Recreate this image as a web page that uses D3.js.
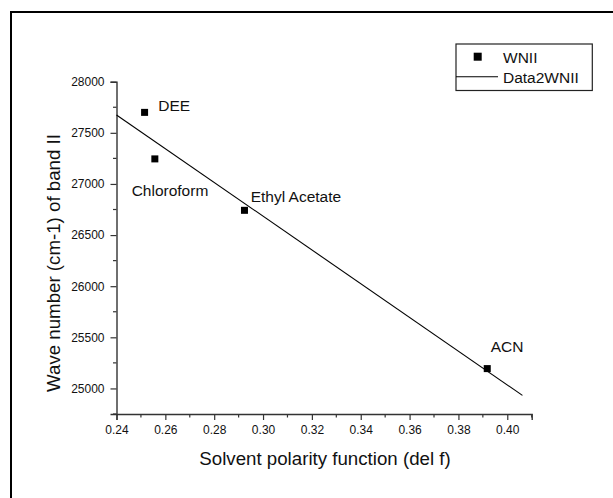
<!DOCTYPE html>
<html>
<head>
<meta charset="utf-8">
<script src="https://cdn.jsdelivr.net/npm/d3@7"></script>
<style>
  html, body { margin: 0; padding: 0; background: #fff; }
  svg { display: block; font-family: "Liberation Sans", Arial, Helvetica, sans-serif; }
</style>
</head>
<body>
<svg id="chart" width="613" height="498"></svg>
<script>
// ---- data ----
const solvents = ["DEE", "Chloroform", "Ethyl Acetate", "ACN"];
const delF = [0.2515, 0.2557, 0.2924, 0.3918];
const waveNumber = [27700, 27245, 26742, 25194];
const fitX = [0.24, 0.4062];
const fitY = [27675, 24932];
const xTicks = [0.24, 0.26, 0.28, 0.30, 0.32, 0.34, 0.36, 0.38, 0.40];
const yTicks = [25000, 25500, 26000, 26500, 27000, 27500, 28000];
const xMinorTicks = [0.25, 0.27, 0.29, 0.31, 0.33, 0.35, 0.37, 0.39, 0.41];
const yMinorTicks = [24750, 25250, 25750, 26250, 26750, 27250, 27750];
const legendLabels = ["WNII", "Data2WNII"];
const xTitle = "Solvent polarity function (del f)";
const yTitle = "Wave number (cm-1) of band II";

// ---- layout ----
const svg = d3.select("#chart");
const x = d3.scaleLinear().domain([0.24, 0.41]).range([116.5, 531.7]);
const y = d3.scaleLinear().domain([24750, 28000]).range([414, 81.7]);
const axisColor = "#333";

// outer frame (right/bottom edges lie outside picture)
svg.append("rect").attr("x", 11).attr("y", 12).attr("width", 700).attr("height", 600)
  .attr("fill", "none").attr("stroke", "#000").attr("stroke-width", 2);

// axes
const xAxis = d3.axisBottom(x).tickValues(xTicks).tickFormat(d3.format(".2f")).tickSize(6).tickPadding(5);
const yAxis = d3.axisLeft(y).tickValues(yTicks).tickFormat(d3.format("d")).tickSize(6).tickPadding(6);

const gx = svg.append("g").attr("transform", `translate(0,${y.range()[0]})`).call(xAxis);
const gy = svg.append("g").attr("transform", `translate(${x.range()[0]},0)`).call(yAxis);

// minor ticks
gx.selectAll(".minor").data(xMinorTicks).enter().append("line")
  .attr("class", "minor").attr("x1", d => x(d)).attr("x2", d => x(d))
  .attr("y1", 0).attr("y2", 3.5).attr("stroke", axisColor);
gy.selectAll(".minor").data(yMinorTicks).enter().append("line")
  .attr("class", "minor").attr("y1", d => y(d)).attr("y2", d => y(d))
  .attr("x1", 0).attr("x2", -3.5).attr("stroke", axisColor);

[gx, gy].forEach(g => {
  g.select(".domain").attr("stroke", axisColor).attr("stroke-width", 1.4);
  g.selectAll(".tick line").attr("stroke", axisColor).attr("stroke-width", 1.2);
  g.selectAll("line.minor").attr("stroke-width", 1.2);
  g.selectAll(".tick text").attr("fill", "#111").style("font-size", "12px")
    .style("font-family", "'Liberation Sans', Arial, sans-serif");
});

// axis titles
svg.append("text").attr("x", 325).attr("y", 465).attr("text-anchor", "middle")
  .style("font-size", "18.7px").attr("fill", "#111").text(xTitle);
svg.append("text").attr("transform", "translate(60,263) rotate(-90)").attr("text-anchor", "middle")
  .style("font-size", "18.7px").attr("fill", "#111").text(yTitle);

// fit line
svg.append("path").datum(fitX.map((d, i) => [d, fitY[i]]))
  .attr("d", d3.line().x(d => x(d[0])).y(d => y(d[1])))
  .attr("fill", "none").attr("stroke", "#000").attr("stroke-width", 1.1);

// points
const ms = 7;
svg.selectAll("rect.pt").data(delF).enter().append("rect").attr("class", "pt")
  .attr("x", d => x(d) - ms / 2).attr("y", (d, i) => y(waveNumber[i]) - ms / 2)
  .attr("width", ms).attr("height", ms).attr("fill", "#000");

// point annotations (pixel offsets from each point)
const labelOffsets = [[13.7, -1.3], [-23.2, 37], [6.2, -8.5], [3.4, -16.3]];
svg.selectAll("text.lbl").data(solvents).enter().append("text").attr("class", "lbl")
  .attr("x", (d, i) => x(delF[i]) + labelOffsets[i][0])
  .attr("y", (d, i) => y(waveNumber[i]) + labelOffsets[i][1])
  .style("font-size", "15.5px").attr("fill", "#111").text(d => d);

// legend
const lg = svg.append("g");
lg.append("rect").attr("x", 456).attr("y", 44).attr("width", 136.3).attr("height", 46.5)
  .attr("fill", "#fff").attr("stroke", "#222").attr("stroke-width", 1.2);
lg.append("rect").attr("x", 477.7 - 4).attr("y", 56.7 - 4).attr("width", 8).attr("height", 8).attr("fill", "#000");
lg.append("line").attr("x1", 456).attr("x2", 498).attr("y1", 76.7).attr("y2", 76.7)
  .attr("stroke", "#000").attr("stroke-width", 1.1);
lg.selectAll("text").data(legendLabels).enter().append("text")
  .attr("x", 503).attr("y", (d, i) => 62.5 + i * 20)
  .style("font-size", "15.5px").attr("fill", "#111").text(d => d);
</script>
</body>
</html>
